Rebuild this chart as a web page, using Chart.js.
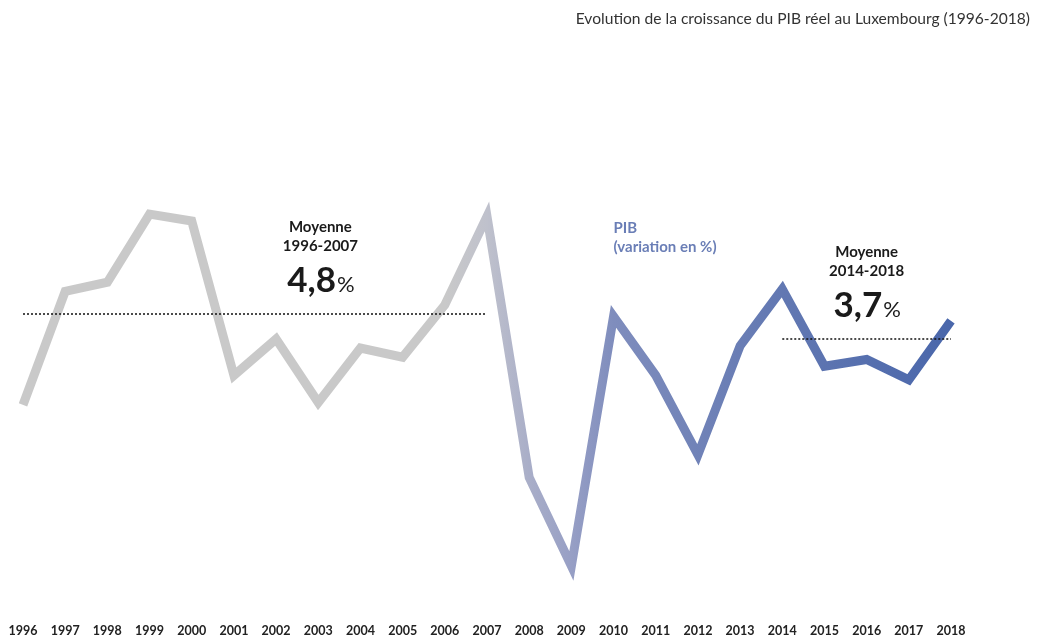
<!DOCTYPE html>
<html lang="fr">
<head>
<meta charset="utf-8">
<title>PIB Luxembourg</title>
<script src="https://cdn.jsdelivr.net/npm/chart.js@4.4.1/dist/chart.umd.min.js"></script>
<style>
  html, body { margin: 0; padding: 0; background: #fff; }
  canvas { display: block; }
</style>
</head>
<body>
<canvas id="pibChart" width="1037" height="637"></canvas>
<script>
// données
const years = ['1996', '1997', '1998', '1999', '2000', '2001', '2002', '2003', '2004', '2005', '2006', '2007',
               '2008', '2009', '2010', '2011', '2012', '2013', '2014', '2015', '2016', '2017', '2018'];
const pib = [0.8, 5.8, 6.2, 9.2, 8.9, 2.1, 3.7, 0.9, 3.3, 2.9, 5.2, 9.1,
             -2.4, -6.3, 4.7, 2.1, -1.4, 3.4, 5.9, 2.5, 2.8, 1.9, 4.5];
const moyenne1 = 4.8;   // 1996-2007
const moyenne2 = 3.7;   // 2014-2018
const moyenne1Label = '4,8';
const moyenne2Label = '3,7';
const titre = 'Evolution de la croissance du PIB réel au Luxembourg (1996-2018)';

// lignes pointillées des moyennes
const ligneMoy1 = years.map((y, i) => (i <= 11 ? moyenne1 : null));
const ligneMoy2 = years.map((y, i) => (i >= 18 ? moyenne2 : null));

function degrade(context) {
    const area = context.chart.chartArea;
    if (!area) return '#c9c9c9';
    const g = context.chart.ctx.createLinearGradient(area.left, 0, area.right, 0);
    g.addColorStop(0, '#c9c9c9');
    g.addColorStop(10 / 22, '#c9c9c9');
    g.addColorStop(11 / 22, '#bfc1cc');
    g.addColorStop(12 / 22, '#a9aec8');
    g.addColorStop(13 / 22, '#979fc5');
    g.addColorStop(14 / 22, '#7f8dbd');
    g.addColorStop(18 / 22, '#6278b2');
    g.addColorStop(1, '#4a67ab');
    return g;
}

const FONT = 'Lato, "Noto Sans", sans-serif';

// textes (titre + annotations)
const textes = {
    id: 'textes',
    afterDatasetsDraw(chart) {
        const ctx = chart.ctx;
        const x = chart.scales.x;
        const y = chart.scales.y;
        ctx.save();
        ctx.fillStyle = '#333';
        ctx.textBaseline = 'alphabetic';
        ctx.textAlign = 'right';
        ctx.font = '15.6px ' + FONT;
        ctx.fillText(titre, 1030, 24);

        function moyenne(idx, val, periode, label) {
            const cx = x.getPixelForValue(idx);
            const base = y.getPixelForValue(val);
            ctx.fillStyle = '#1a1a1a';
            ctx.textAlign = 'center';
            ctx.font = 'bold 15px ' + FONT;
            ctx.fillText('Moyenne', cx, base - 82);
            ctx.fillText(periode, cx, base - 63);
            ctx.font = 'bold 35px ' + FONT;
            const w1 = ctx.measureText(label).width;
            ctx.font = '22px ' + FONT;
            const w2 = ctx.measureText('%').width;
            const left = cx - (w1 + w2) / 2;
            ctx.textAlign = 'left';
            ctx.font = 'bold 35px ' + FONT;
            ctx.fillText(label, left, base - 22);
            ctx.font = '22px ' + FONT;
            ctx.fillText('%', left + w1 + 1, base - 22);
        }
        moyenne(7.05, moyenne1, '1996-2007', moyenne1Label);
        moyenne(20.0, moyenne2, '2014-2018', moyenne2Label);

        ctx.fillStyle = '#6a7eb6';
        ctx.textAlign = 'left';
        ctx.font = 'bold 15px ' + FONT;
        ctx.fillText('PIB', x.getPixelForValue(14), 233);
        ctx.fillText('(variation en %)', x.getPixelForValue(14), 252);
        ctx.restore();
    }
};

const ctx = document.getElementById('pibChart').getContext('2d');
new Chart(ctx, {
    type: 'line',
    data: {
        labels: years,
        datasets: [
            {
                label: 'Moyenne 1996-2007',
                data: ligneMoy1,
                borderColor: '#111',
                borderWidth: 1.6,
                borderDash: [2, 2],
                pointRadius: 0,
                spanGaps: false,
                order: 0
            },
            {
                label: 'Moyenne 2014-2018',
                data: ligneMoy2,
                borderColor: '#111',
                borderWidth: 1.6,
                borderDash: [2, 2],
                pointRadius: 0,
                spanGaps: false,
                order: 0
            },
            {
                label: 'PIB (variation en %)',
                data: pib,
                borderColor: degrade,
                borderWidth: 9,
                borderJoinStyle: 'miter',
                borderCapStyle: 'butt',
                tension: 0,
                pointRadius: 0,
                order: 1
            }
        ]
    },
    options: {
        responsive: false,
        animation: false,
        layout: {
            padding: { left: 23, right: 86, top: 196, bottom: 0 }
        },
        scales: {
            x: {
                grid: { display: false, drawTicks: false },
                border: { display: false },
                afterFit(scale) {
                    // hauteur fixe de l'axe, pas de marge supplémentaire
                    scale.height = 32.4;
                    scale.paddingLeft = 0;
                    scale.paddingRight = 0;
                },
                ticks: {
                    padding: 19,
                    maxRotation: 0,
                    autoSkip: false,
                    color: '#222',
                    font: { family: FONT, size: 12.5, weight: 'bold' }
                }
            },
            y: {
                display: false,
                min: -8,
                max: 10
            }
        },
        plugins: {
            legend: { display: false },
            tooltip: { enabled: false }
        }
    },
    plugins: [textes]
});
</script>
</body>
</html>
